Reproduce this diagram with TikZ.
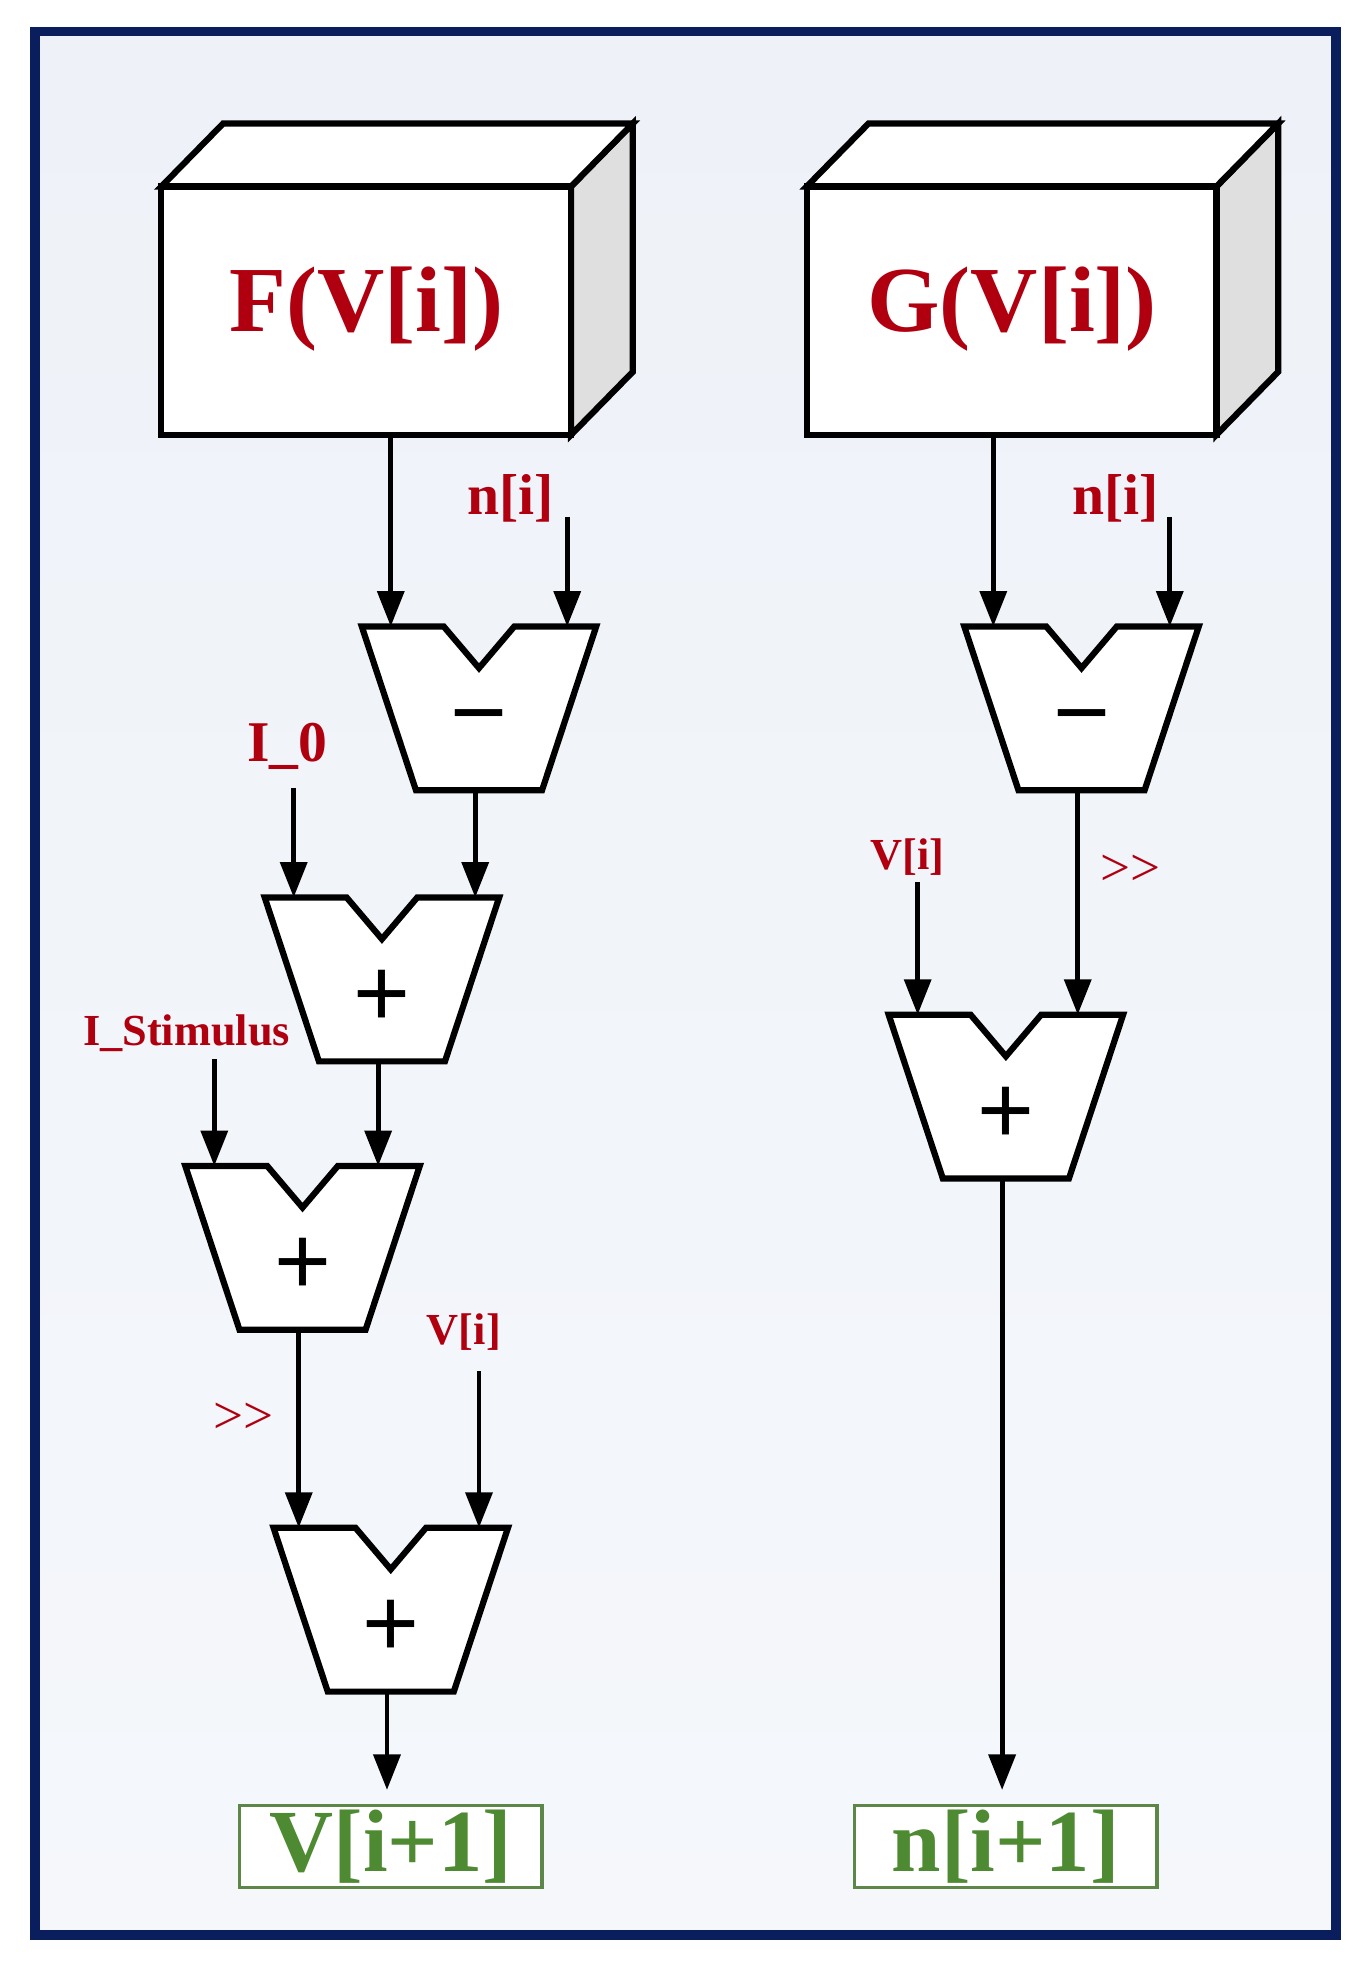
\documentclass[tikz,border=0pt]{standalone}
\usepackage{fontspec}
\setmainfont{Liberation Serif}
\setsansfont{Liberation Sans}
\usetikzlibrary{arrows.meta}
\definecolor{dred}{HTML}{B00010}
\definecolor{dgreen}{HTML}{4E8A32}
\definecolor{navy}{HTML}{0A1E5E}
\definecolor{bg}{HTML}{EEF2F8}
\tikzset{
  wire/.style={line width=1.1pt,-{Triangle[length=8pt,width=6pt]}},
  boxline/.style={line width=1.4pt,line join=miter},
  lab/.style={text=dred,font=\bfseries},
  outbox/.style={draw=dgreen!70!gray,line width=0.8pt,fill=white,text=dgreen,font=\bfseries\fontsize{20}{20}\selectfont,minimum width=240*0.01cm,minimum height=65*0.01cm,inner sep=0pt},
}
% trapezoid: name, left x, top y, symbol
\newcommand{\trapz}[4]{%
  \draw[boxline,fill=white] (#2,#3) -- ++(65,0) -- ++(28,33) -- ++(28,-33) -- ++(65,0)
     -- ++(-43,130) -- ++(-100,0) -- cycle;
  \node[font=\sffamily\fontsize{22}{22}\selectfont] (#1) at ({#2+93},{#3+80}) {#4};
  \coordinate (#1-l) at ({#2+23},#3);
  \coordinate (#1-r) at ({#2+163},#3);
  \coordinate (#1-o) at ({#2+90},{#3+130});
}
\newcommand{\cube}[4]{%
  \draw[boxline,fill=gray!25] (#2+325,#3) -- ++(49,-50) -- ++(0,197) -- ++(-49,50) -- cycle;
  \draw[boxline,fill=white] (#2,#3) -- ++(49,-50) -- ++(325,0) -- ++(-49,50) -- cycle;
  \draw[boxline,fill=white] (#2,#3) rectangle ++(325,197);
  \node[text=dred,font=\bfseries\fontsize{21}{21}\selectfont] (#1) at ({#2+163},{#3+97}) {#4};
}
\begin{document}
\begin{tikzpicture}[x=0.01cm,y=-0.01cm]
\useasboundingbox (0,0) rectangle (1085,1570);
\fill[white] (0,0) rectangle (1085,1570);
\draw[navy,line width=2.2pt,top color=bg,bottom color=bg!60!white] (28,25) rectangle (1060,1535);

\cube{F}{128}{148}{F(V[i])}
\cube{G}{640}{148}{G(V[i])}
\coordinate (Fo) at (310,345);
\coordinate (Go) at (788,345);

\trapz{s1}{287}{497}{−}
\trapz{a1}{210}{712}{+}
\trapz{a2}{147}{925}{+}
\trapz{a3}{217}{1212}{+}
\trapz{s2}{765}{497}{−}
\trapz{a4}{705}{805}{+}

\node[lab,font=\bfseries\fontsize{13}{13}\selectfont] (n1) at (405,395) {n[i]};
\node[lab,font=\bfseries\fontsize{13}{13}\selectfont] (n2) at (885,395) {n[i]};
\node[lab,font=\bfseries\fontsize{13}{13}\selectfont] (i0) at (228,592) {I\_0};
\node[lab,font=\bfseries\fontsize{10}{10}\selectfont] (is) at (148,820) {I\_Stimulus};
\node[lab,font=\bfseries\fontsize{10}{10}\selectfont] (v1) at (368,1057) {V[i]};
\node[lab,font=\bfseries\fontsize{10}{10}\selectfont] (v2) at (720,680) {V[i]};
\node[text=dred,font=\fontsize{12}{12}\selectfont] (sh1) at (193,1125) {>{}>};
\node[text=dred,font=\fontsize{12}{12}\selectfont] (sh2) at (897,690) {>{}>};

\coordinate (n1s) at (450,410);
\coordinate (n2s) at (928,410);
\coordinate (i0s) at (233,625);
\coordinate (iss) at (170,840);
\coordinate (v1s) at (380,1088);
\coordinate (v2s) at (728,700);

\draw[wire] (Fo) -- (Fo |- s1-l);
\draw[wire] (n1s) -- (n1s |- s1-r);
\draw[wire] (i0s) -- (i0s |- a1-l);
\draw[wire] (s1-o) -- (s1-o |- a1-r);
\draw[wire] (iss) -- (iss |- a2-l);
\draw[wire] (a1-o) -- (a1-o |- a2-r);
\draw[wire] (a2-o) -- (a2-o |- a3-l);
\draw[wire] (v1s) -- (v1s |- a3-r);

\draw[wire] (Go) -- (Go |- s2-l);
\draw[wire] (n2s) -- (n2s |- s2-r);
\draw[wire] (v2s) -- (v2s |- a4-l);
\draw[wire] (s2-o) -- (s2-o |- a4-r);

\node[outbox] (vout) at (310,1465) {V[i+1]};
\node[outbox] (nout) at (798,1465) {n[i+1]};
\coordinate (ve) at (310,1420);
\coordinate (ne) at (798,1420);
\draw[wire] (a3-o) -- (a3-o |- ve);
\draw[wire] (a4-o) -- (a4-o |- ne);
\end{tikzpicture}
\end{document}
